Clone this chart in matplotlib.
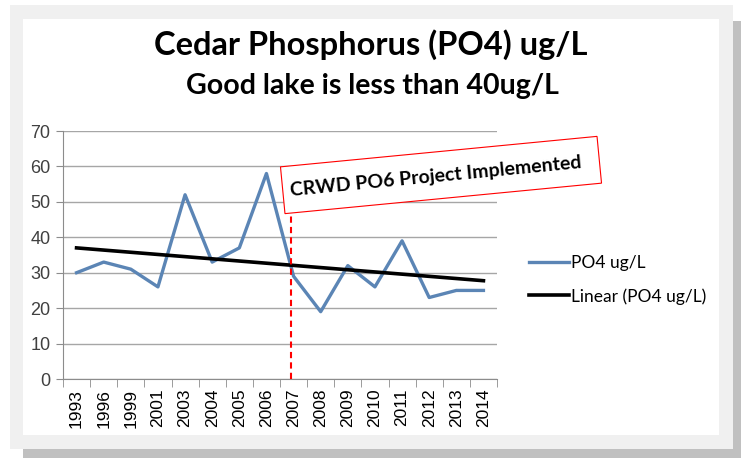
import numpy as np
import matplotlib
matplotlib.use("Agg")
import matplotlib.pyplot as plt
from matplotlib.patches import Rectangle
from matplotlib.lines import Line2D

years = ["1993", "1996", "1999", "2001", "2003", "2004", "2005", "2006",
         "2007", "2008", "2009", "2010", "2011", "2012", "2013", "2014"]
po4 = [30, 33, 31, 26, 52, 33, 37, 58, 29, 19, 32, 26, 39, 23, 25, 25]

W, H = 741, 458
fig = plt.figure(figsize=(W / 100, H / 100), dpi=100)
fig.patch.set_facecolor("white")


def fr(x, y):
    # pixel coords (top-left origin) -> figure fraction
    return x / W, 1 - y / H


def box(x0, y0, x1, y1, color, z):
    fx0, fy1 = fr(x0, y1)
    fig.patches.append(Rectangle((fx0, fy1), (x1 - x0) / W, (y1 - y0) / H,
                                 transform=fig.transFigure, facecolor=color,
                                 edgecolor="none", zorder=z))


# frame with shadow
box(733, 21, 741, 458, "#c0c0c0", -10)
box(23, 449, 741, 458, "#c0c0c0", -10)
box(10, 5, 733, 449, "#f0f0f0", -9)
box(23, 19, 719, 435, "white", -8)

l, b = fr(63, 379)
r, t = fr(497, 131)
ax = fig.add_axes([l, b, r - l, t - b])
ax.set_facecolor("none")

x = np.arange(len(years))
ax.plot(x, po4, color="#5b85b5", lw=2.4, zorder=3, label="PO4 ug/L")
k, c = np.polyfit(x, po4, 1)
ax.plot(x, k * x + c, color="black", lw=2.6, zorder=4, label="Linear (PO4 ug/L)")

# project line
ax.plot([7.9, 7.9], [0, 47], color="red", ls=(0, (3, 2)), lw=1.5, zorder=5)

ax.set_xlim(-0.5, len(years) - 0.5)
ax.set_ylim(0, 70)
ax.set_yticks(range(0, 71, 10))
ax.yaxis.grid(True, color="#a6a6a6", lw=1)
ax.set_axisbelow(True)
for s in ["top", "right"]:
    ax.spines[s].set_visible(False)
for s in ["left", "bottom"]:
    ax.spines[s].set_color("#8c8c8c")
ax.set_xticks(x)
ax.set_xticklabels(years, rotation=90, fontsize=12.5, family="Liberation Sans")
ax.set_xticks(np.arange(-0.5, len(years)), minor=True)
ax.tick_params(axis="x", which="major", length=0, pad=7)
ax.tick_params(axis="x", which="minor", length=6, color="#8c8c8c")
ax.tick_params(axis="y", length=5, color="#8c8c8c", labelsize=13, pad=4)
for lab in ax.get_yticklabels():
    lab.set_family("Liberation Sans")
    lab.set_color("#404040")

# titles
fig.text(*fr(371, 45), "Cedar Phosphorus (PO4) ug/L", ha="center", va="center",
         fontsize=23.5, fontweight="bold", family="Lato")
fig.text(*fr(372, 86), "Good lake is less than 40ug/L", ha="center", va="center",
         fontsize=20.5, fontweight="bold", family="Lato")

# rotated annotation box
cx, cy = 441, H - 175
bw, bh = 318, 47
px = matplotlib.transforms.Affine2D().scale(1 / 100) + fig.dpi_scale_trans
fig.patches.append(Rectangle((cx - bw / 2, cy - bh / 2), bw, bh, angle=5.5,
                             rotation_point="center", transform=px,
                             facecolor="white", edgecolor="red", lw=0.8, zorder=6))
fig.text(cx - 5, cy - 2, "CRWD PO6 Project Implemented", transform=px,
         rotation=5.5, rotation_mode="anchor", ha="center", va="center",
         fontsize=14, fontweight="bold", family="Lato", zorder=7)

# legend
handles = [Line2D([], [], color="#5b85b5", lw=2.4), Line2D([], [], color="black", lw=2.6)]
ax.legend(handles, ["PO4 ug/L", "Linear (PO4 ug/L)"], loc="center left",
          bbox_to_anchor=fr(529, 280), bbox_transform=fig.transFigure,
          frameon=False, prop={"family": "Lato", "size": 12.5},
          handlelength=2.3, handletextpad=0.1, labelspacing=0.95,
          borderpad=0, borderaxespad=0)

fig.savefig("out.png", dpi=100)
